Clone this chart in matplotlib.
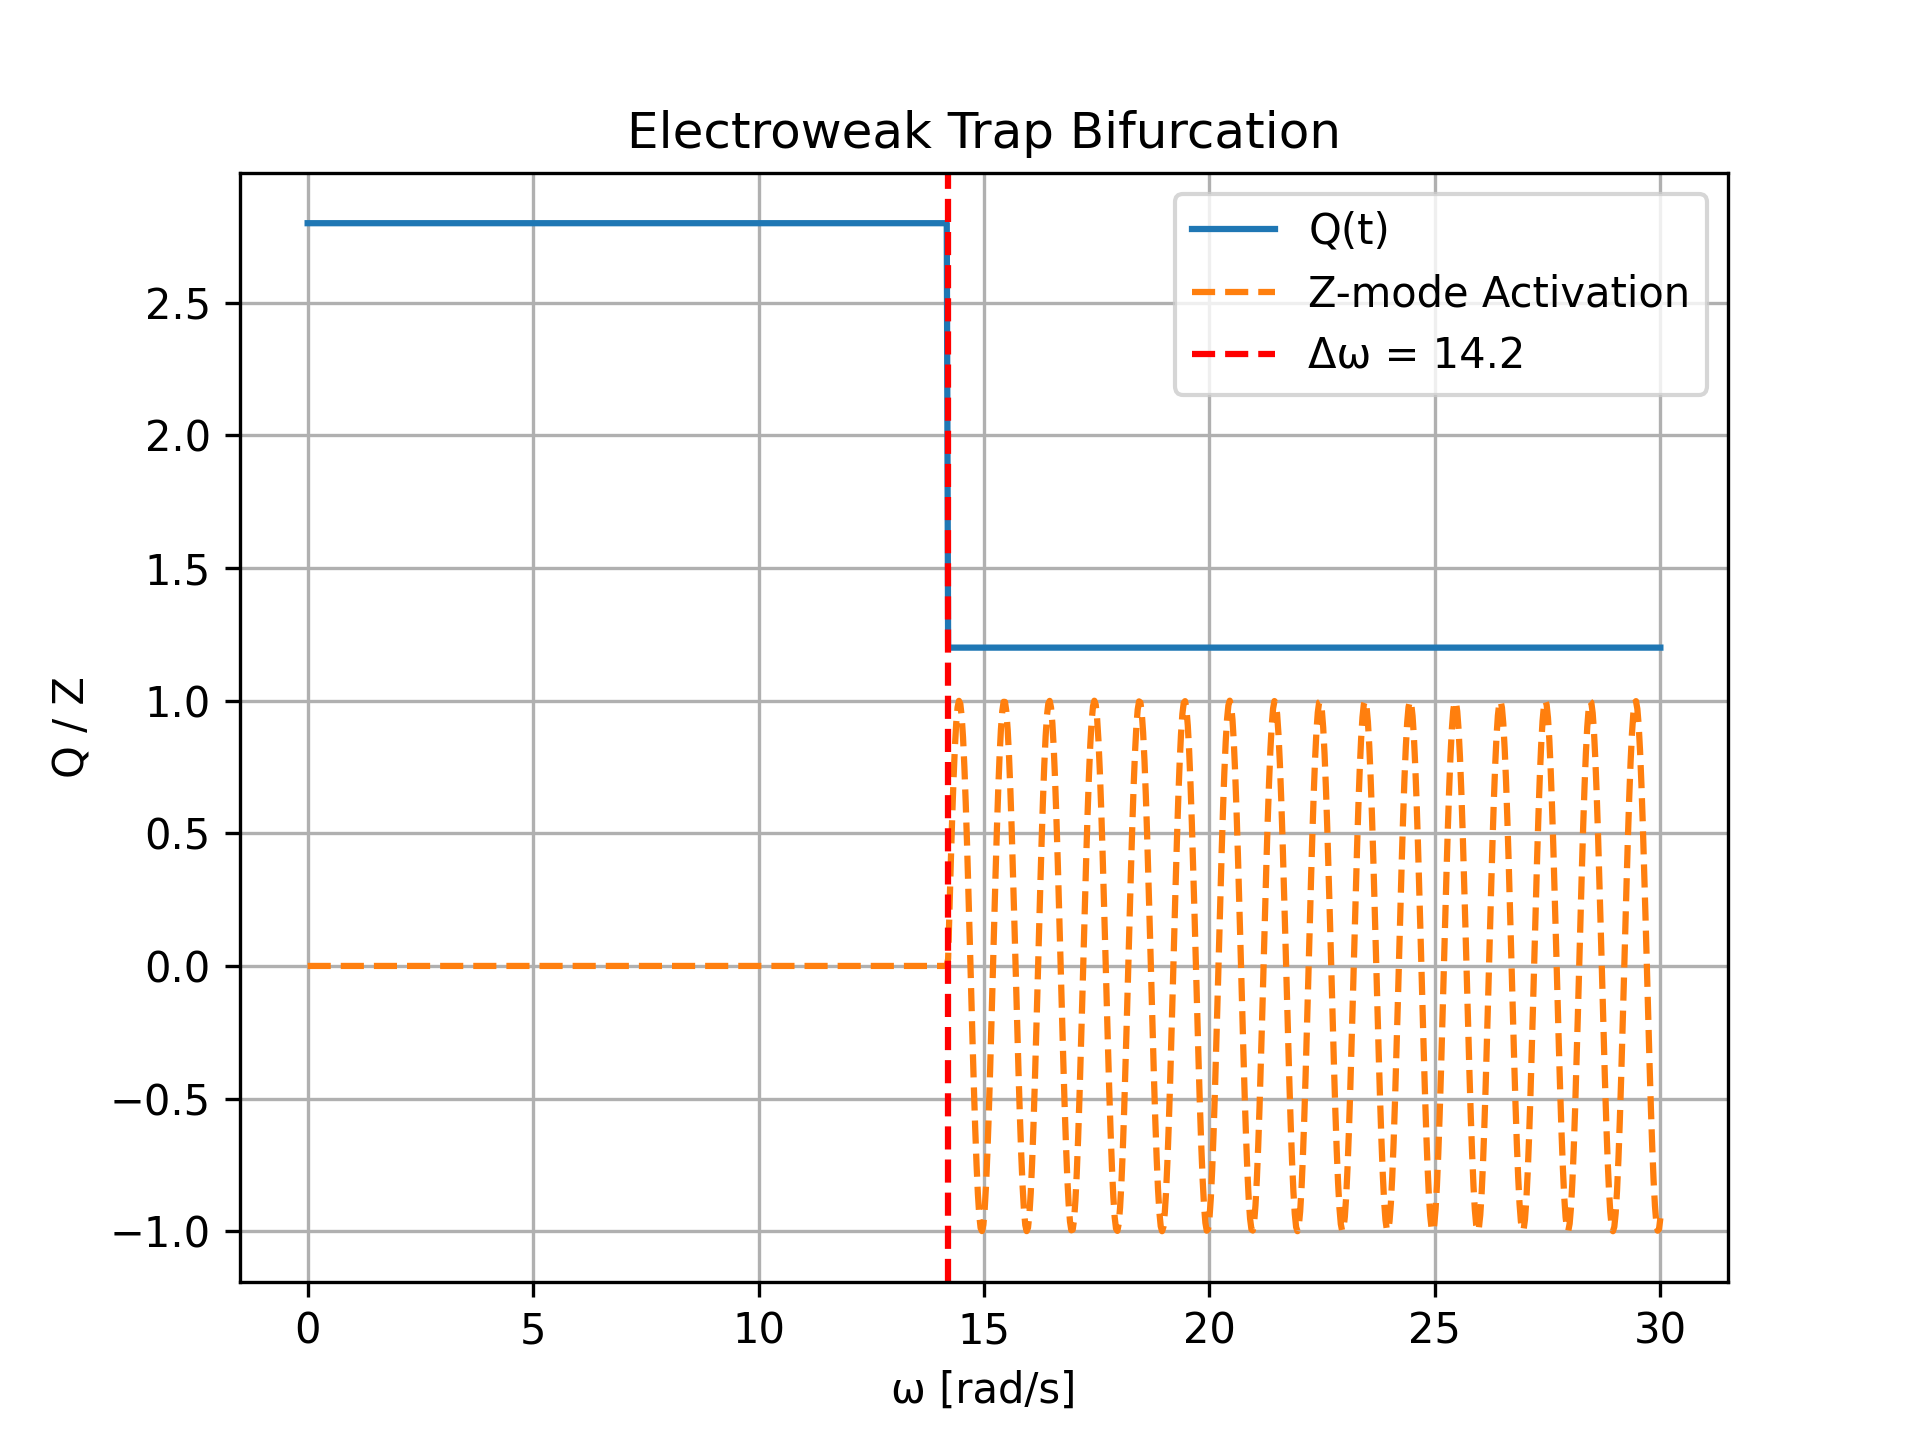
import numpy as np
import matplotlib
matplotlib.use("Agg")
import matplotlib.pyplot as plt

# values
OMEGA_RANGE = [0.0, 30.0]
N_SAMPLES = 1000
DELTA_OMEGA = 14.2          # bifurcation point
Q_LEVELS = [2.8, 1.2]       # Q before / after the jump
Z_AMPLITUDE = 1.0           # Z-mode peaks at +/-1
Z_PERIOD = 1.0              # one cycle per rad/s (16 peaks between 14.2 and 30)

omega = np.linspace(OMEGA_RANGE[0], OMEGA_RANGE[1], N_SAMPLES)
active = omega > DELTA_OMEGA
Q = np.where(active, Q_LEVELS[1], Q_LEVELS[0])
Z = np.where(active, Z_AMPLITUDE * np.sin(2 * np.pi * (omega - DELTA_OMEGA) / Z_PERIOD), 0.0)

fig, ax = plt.subplots(figsize=(6.4, 4.8), dpi=300)
ax.plot(omega, Q, label="Q(t)")
ax.plot(omega, Z, "--", label="Z-mode Activation")
ax.axvline(DELTA_OMEGA, color="r", linestyle="--", label=f"Δω = {DELTA_OMEGA}")
ax.set_title("Electroweak Trap Bifurcation")
ax.set_xlabel("ω [rad/s]")
ax.set_ylabel("Q / Z")
ax.legend(loc="upper right")
ax.grid(True)

fig.savefig("out.png", dpi=300)
plt.close(fig)
